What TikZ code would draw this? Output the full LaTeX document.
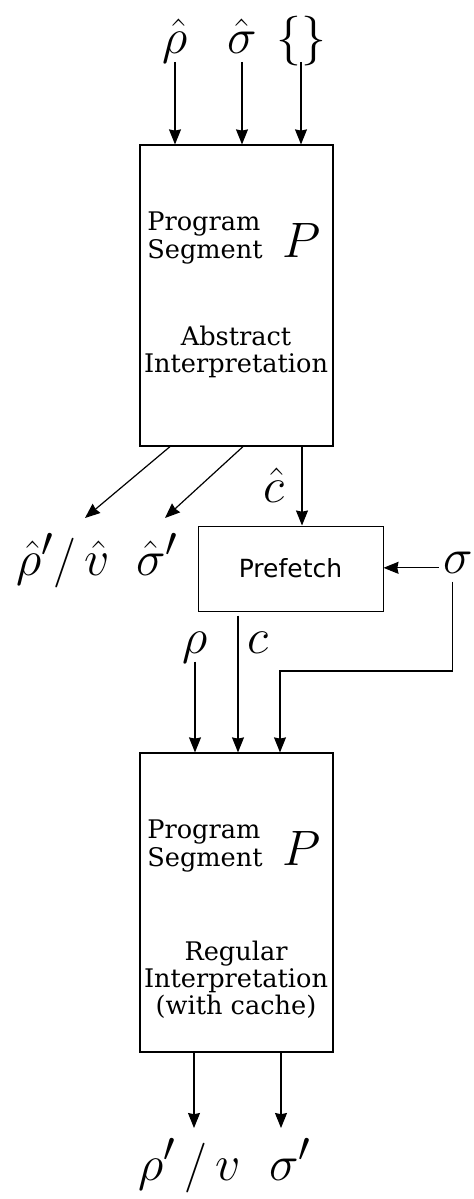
\documentclass[tikz,border=0pt]{standalone}
\usepackage{amsmath}
\usepackage{fontspec}
\setmainfont{DejaVu Serif}
\newfontfamily\pffont{DejaVu Sans}
\usepackage{tikz}
\usetikzlibrary{positioning, arrows.meta, calc}

\tikzset{
  box/.style={draw, line width=0.6pt, inner sep=0pt},
  sym/.style={font=\fontsize{28}{30}\selectfont, inner sep=2pt, text depth=0.2em},
  txt/.style={font=\fontsize{12.8}{13.6}\selectfont, align=center, inner sep=0pt},
}

\begin{document}
\begin{tikzpicture}[x=0.5pt, y=-0.5pt, line width=0.6pt, >={Stealth[length=7.5pt,width=6pt,inset=0.6pt]}]
    \useasboundingbox (0,0) rectangle (474,1199);
    % abstract run
    \node[box, minimum width=96.5pt, minimum height=150.5pt] (abs) at (236.5,295.5) {};
    \node[txt, align=left] (seg1) at (205,238) {Program\\Segment};
    \node[sym, anchor=base, font=\fontsize{33}{33}\selectfont] (p1) at (302,257) {$P$};
    \node[txt] (absint) at (236,352) {Abstract\\Interpretation};
    \foreach \n/\x/\t in {rh/175/{$\hat\rho$}, sh/242/{$\hat\sigma$}, br/301/{$\{\}$}} {
        \node[sym, anchor=base, font=\fontsize{31}{33}\selectfont, text depth=0.16em] (\n) at (\x,54) {\t};
        \draw[->] (\n) -- (\n |- abs.north);
    }
    \node[sym, anchor=base] (rvh) at (63,575) {$\hat\rho'/\,\hat v$};
    \node[sym, anchor=base] (sgh) at (157,575) {$\hat\sigma'$};
    \node[sym, anchor=base] (ch) at (274,502) {$\hat c$};
    \coordinate (rvtip) at (85,518);
    \coordinate (sgtip) at (165,518);
    \draw[->] ($(abs.south)+(-66.5,0)$) -- (rvtip);
    \draw[->] ($(abs.south)+(6.5,0)$) -- (sgtip);
    % prefetch
    \node[box, line width=0.5pt, minimum width=92.5pt, minimum height=42.5pt, font=\pffont\fontsize{12.5}{14}\selectfont] (pf) at (290.5,568.5) {Prefetch};
    \draw[->] ($(abs.south)+(65.5,0)$) coordinate (ct) -- (ct |- pf.north);
    \node[sym, anchor=base, font=\fontsize{27}{30}\selectfont] (sg) at (458,573) {$\sigma$};
    \draw[->] (sg.mid west) -- (sg.mid west -| pf.east);
    % regular run
    \node[box, minimum width=96.5pt, minimum height=149.5pt] (reg) at (236.5,902.5) {};
    \node[txt, align=left] (seg2) at (205,846) {Program\\Segment};
    \node[sym, anchor=base, font=\fontsize{33}{33}\selectfont] (p2) at (302,865) {$P$};
    \node[txt] (regint) at (236,980) {Regular\\Interpretation\\(with cache)};
    \node[sym, anchor=base] (rho) at (195,653) {$\rho$};
    \node[sym, anchor=base] (c) at (258,653) {$c$};
    \draw[->] (rho) -- (rho |- reg.north);
    \draw[->] ($(pf.south)+(-52.5,4)$) coordinate (cc) -- (cc |- reg.north);
    \coordinate (sbend) at (280,671);
    \draw[->] ($(sg.south)+(-5.5,0)$) |- (sbend) -- (sbend |- reg.north);
    \node[sym, anchor=base] (rvo) at (190,1180) {$\rho'\,/\,v$};
    \node[sym, anchor=base] (sgo) at (290,1180) {$\sigma'$};
    \coordinate (rvend) at (194,1128);
    \coordinate (sgend) at (281,1128);
    \draw[->] (rvend |- reg.south) -- (rvend);
    \draw[->] (sgend |- reg.south) -- (sgend);
\end{tikzpicture}
\end{document}
